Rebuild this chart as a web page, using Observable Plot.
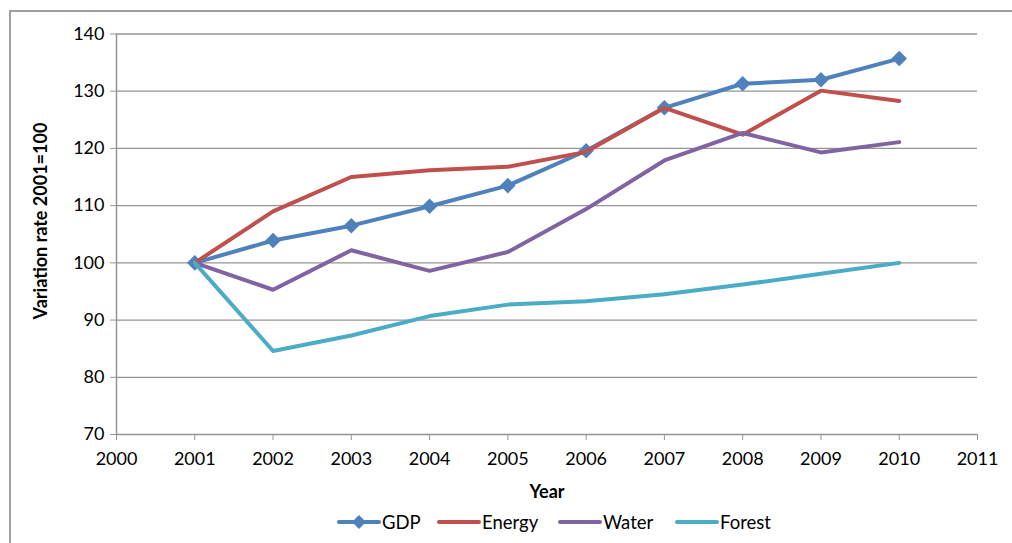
<!DOCTYPE html>
<html>
<head>
<meta charset="utf-8">
<script src="https://cdn.jsdelivr.net/npm/d3@7"></script>
<script src="https://cdn.jsdelivr.net/npm/@observablehq/plot@0.6"></script>
<style>
  html, body { margin: 0; padding: 0; background: #fff; }
  body { width: 1012px; height: 543px; position: relative; overflow: hidden; font-family: Lato, "Open Sans", sans-serif; }
  #frame { position: absolute; left: 9px; top: 10px; width: 1010px; height: 540px; border-top: 2px solid #a0a0a0; border-left: 2px solid #a0a0a0; box-sizing: border-box; }
  #chart { position: absolute; left: 0; top: 0; }
  .title { position: absolute; font-weight: bold; font-size: 18px; color: #000; white-space: nowrap; }
  #ylabel { left: 40px; top: 221px; transform: translate(-50%, -50%) rotate(-90deg); }
  #xlabel { left: 547px; top: 491px; transform: translate(-50%, -50%); }
  .item { position: absolute; top: 512px; height: 20px; display: flex; align-items: center; gap: 1px; font-size: 18.5px; color: #000; }
</style>
</head>
<body>
<div id="frame"></div>
<div id="chart"></div>
<div class="title" id="ylabel">Variation rate 2001=100</div>
<div class="title" id="xlabel">Year</div>
<div id="legend"></div>
<script>
const years = [2001, 2002, 2003, 2004, 2005, 2006, 2007, 2008, 2009, 2010];
const gdp    = [100, 103.9, 106.5, 109.9, 113.5, 119.6, 127.1, 131.3, 132.0, 135.7];
const energy = [100, 109.0, 115.0, 116.2, 116.8, 119.4, 127.1, 122.4, 130.1, 128.3];
const water  = [100, 95.3, 102.2, 98.6, 101.9, 109.4, 117.9, 122.7, 119.3, 121.1];
const forest = [100, 84.6, 87.3, 90.7, 92.7, 93.3, 94.5, 96.2, 98.1, 100.0];
const seriesNames = ["GDP", "Energy", "Water", "Forest"];
const seriesColors = ["#4F81BD", "#C0504D", "#8064A2", "#4BACC6"];
const xTicks = [2000, 2001, 2002, 2003, 2004, 2005, 2006, 2007, 2008, 2009, 2010, 2011];
const yTicks = [70, 80, 90, 100, 110, 120, 130, 140];

const seriesValues = [gdp, energy, water, forest];
const rows = seriesNames.map((name, i) => years.map((year, j) => ({series: name, year, value: seriesValues[i][j]})));

const gridColor = "#959595";

const lineMarks = [];
seriesNames.forEach((name, i) => {
  lineMarks.push(Plot.line(rows[i], {x: "year", y: "value", stroke: seriesColors[i], strokeWidth: 4, strokeLinejoin: "round", strokeLinecap: "round"}));
  if (name === "GDP") {
    lineMarks.push(Plot.dot(rows[i], {x: "year", y: "value", symbol: "diamond2", r: 7, fill: seriesColors[i], stroke: "none"}));
  }
});

const chart = Plot.plot({
  width: 1012,
  height: 500,
  marginLeft: 116,
  marginRight: 35,
  marginTop: 33.5,
  marginBottom: 66,
  style: {fontFamily: "Lato, 'Open Sans', sans-serif", fontSize: "18px", color: "#000", background: "transparent"},
  x: {domain: [2000, 2011], label: null},
  y: {domain: [70, 140], label: null},
  marks: [
    Plot.ruleY(yTicks.slice(1), {stroke: gridColor, strokeWidth: 1.3}),
    Plot.ruleY([70], {stroke: gridColor, strokeWidth: 1.5}),
    Plot.ruleX([2000], {stroke: gridColor, strokeWidth: 1.5}),
    Plot.axisX({ticks: xTicks, tickFormat: d => String(d), tickSize: 6, tickPadding: 12, stroke: gridColor, fill: "#000", label: null}),
    Plot.axisY({ticks: yTicks, tickSize: 6, tickPadding: 6, stroke: gridColor, fill: "#000", label: null}),
    ...lineMarks
  ]
});
document.getElementById("chart").appendChild(chart);

const legendLeft = [337, 437, 558, 675];
const legend = document.getElementById("legend");
seriesNames.forEach((name, i) => {
  const item = document.createElement("div");
  item.className = "item";
  item.style.left = legendLeft[i] + "px";
  const ns = "http://www.w3.org/2000/svg";
  const svg = document.createElementNS(ns, "svg");
  svg.setAttribute("width", 44);
  svg.setAttribute("height", 16);
  const line = document.createElementNS(ns, "line");
  line.setAttribute("x1", 2); line.setAttribute("x2", 42);
  line.setAttribute("y1", 8); line.setAttribute("y2", 8);
  line.setAttribute("stroke", seriesColors[i]);
  line.setAttribute("stroke-width", 4);
  line.setAttribute("stroke-linecap", "round");
  svg.appendChild(line);
  if (name === "GDP") {
    const d = document.createElementNS(ns, "path");
    d.setAttribute("d", "M22,1 L29,8 L22,15 L15,8 Z");
    d.setAttribute("fill", seriesColors[i]);
    svg.appendChild(d);
  }
  const label = document.createElement("span");
  label.textContent = name;
  item.appendChild(svg);
  item.appendChild(label);
  legend.appendChild(item);
});
</script>
</body>
</html>
